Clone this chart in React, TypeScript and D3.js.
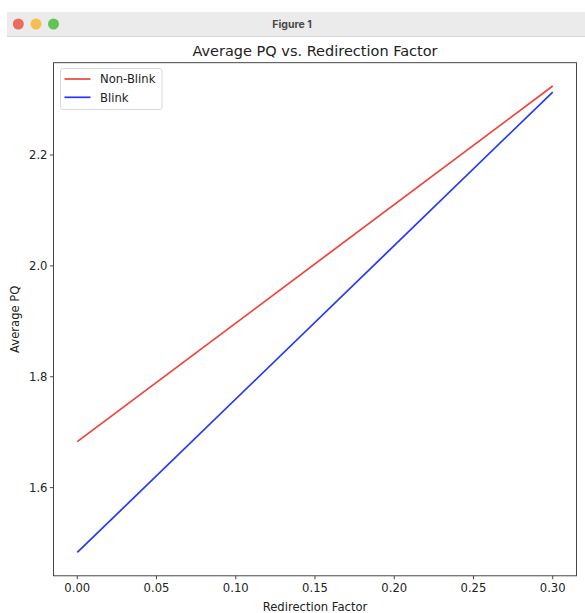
import React from "react";
import * as d3 from "d3";

const xValues = [0.0, 0.3];
const nonBlink = [1.683, 2.3245];
const blink = [1.483, 2.3136];
const xTicks = [0.0, 0.05, 0.1, 0.15, 0.2, 0.25, 0.3];
const yTicks = [1.6, 1.8, 2.0, 2.2];
const seriesNames = ["Non-Blink", "Blink"];
const seriesColors = ["#f0413a", "#2638f5"];

export default function App() {
  const W = 585, H = 613;
  const left = 53.5, right = 576.5, top = 62.7, bottom = 575.8;
  const all = [...nonBlink, ...blink];
  const yMin = d3.min(all)!, yMax = d3.max(all)!;
  const yPad = (yMax - yMin) * 0.05;
  const xPad = (0.3 - 0) * 0.05;
  const x = d3.scaleLinear().domain([0 - xPad, 0.3 + xPad]).range([left, right]);
  const y = d3.scaleLinear().domain([yMin - yPad, yMax + yPad]).range([bottom, top]);
  const line = d3.line<number>().x((_, i) => x(xValues[i])).y((d) => y(d));
  const series = [nonBlink, blink];
  const font = "'DejaVu Sans', sans-serif";
  const fs = 11.6;
  return (
    <div style={{ position: "fixed", left: 0, top: 0, width: W, height: H, background: "#fff" }}>
      <svg width={W} height={H} style={{ display: "block" }}>
        <rect x={0} y={0} width={W} height={H} fill="#fff" />
        {/* window title bar */}
        <rect x={7} y={12} width={W - 7} height={25} fill="#ebebeb" />
        <line x1={7} x2={W} y1={36.5} y2={36.5} stroke="#d6d6d6" />
        <circle cx={18.3} cy={24} r={5.5} fill="#ed6a5e" />
        <circle cx={36} cy={24} r={5.5} fill="#f5bf4f" />
        <circle cx={53.5} cy={24} r={5.5} fill="#61c554" />
        <text x={292} y={28} textAnchor="middle" fontFamily="Inter, Roboto, sans-serif" fontWeight="bold" fontSize={10.5} fill="#4a4a4a">Figure 1</text>
        {/* title */}
        <text x={(left + right) / 2} y={55.5} textAnchor="middle" fontFamily={font} fontSize={14.5} fill="#222">Average PQ vs. Redirection Factor</text>
        {/* lines */}
        <g clipPath="url(#clip)">
          {series.map((s, i) => (
            <path key={i} d={line(s)!} fill="none" stroke={seriesColors[i]} strokeWidth={1.7} />
          ))}
        </g>
        <defs>
          <clipPath id="clip"><rect x={left} y={top} width={right - left} height={bottom - top} /></clipPath>
        </defs>
        {/* axes frame */}
        <rect x={left} y={top} width={right - left} height={bottom - top} fill="none" stroke="#333" strokeWidth={0.9} />
        {xTicks.map((t) => (
          <g key={t}>
            <line x1={x(t)} x2={x(t)} y1={bottom} y2={bottom + 3.5} stroke="#333" strokeWidth={0.9} />
            <text x={x(t)} y={bottom + 16.5} textAnchor="middle" fontFamily={font} fontSize={fs} fill="#222">{t.toFixed(2)}</text>
          </g>
        ))}
        {yTicks.map((t) => (
          <g key={t}>
            <line x1={left - 3.5} x2={left} y1={y(t)} y2={y(t)} stroke="#333" strokeWidth={0.9} />
            <text x={left - 6} y={y(t) + 4.2} textAnchor="end" fontFamily={font} fontSize={fs} fill="#222">{t.toFixed(1)}</text>
          </g>
        ))}
        <text x={(left + right) / 2} y={610.5} textAnchor="middle" fontFamily={font} fontSize={fs} fill="#222">Redirection Factor</text>
        <text transform={`translate(19,${(top + bottom) / 2}) rotate(-90)`} textAnchor="middle" fontFamily={font} fontSize={fs} fill="#222">Average PQ</text>
        {/* legend */}
        <rect x={60.5} y={68.5} width={101.5} height={41} rx={2.5} fill="#fff" fillOpacity={0.8} stroke="#d5d5d5" strokeWidth={0.9} />
        {seriesNames.map((n, i) => (
          <g key={n}>
            <line x1={64.5} x2={90.5} y1={79 + i * 18.3} y2={79 + i * 18.3} stroke={seriesColors[i]} strokeWidth={1.7} />
            <text x={100} y={83.2 + i * 18.3} fontFamily={font} fontSize={fs} fill="#222">{n}</text>
          </g>
        ))}
      </svg>
    </div>
  );
}
